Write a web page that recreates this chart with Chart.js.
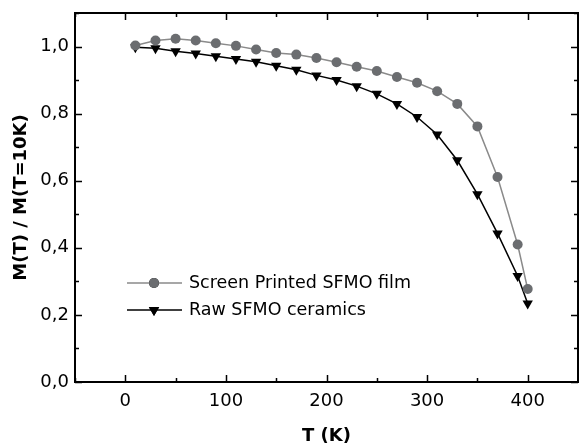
<!DOCTYPE html>
<html>
<head>
<meta charset="utf-8">
<script src="https://cdn.jsdelivr.net/npm/chart.js@4.4.1/dist/chart.umd.min.js"></script>
<style>
  html, body { margin: 0; padding: 0; background: #fff; }
  #wrap { width: 579px; height: 447px; }
</style>
</head>
<body>
<div id="wrap"><canvas id="c" width="579" height="447"></canvas></div>
<script>
// temperatures (K), same for both samples
const temps = [10, 30, 50, 70, 90, 110, 130, 150, 170, 190, 210, 230, 250, 270, 290, 310, 330, 350, 370, 390, 400]

const filmValues = [1.003, 1.018, 1.023, 1.018, 1.010, 1.002, 0.991, 0.981, 0.976, 0.966, 0.953,
  0.940, 0.927, 0.909, 0.892, 0.867, 0.829, 0.762, 0.611, 0.410, 0.277]

const ceramicValues = [0.998, 0.995, 0.986, 0.979, 0.971, 0.963, 0.955, 0.943, 0.931, 0.914, 0.900,
  0.882, 0.859, 0.829, 0.790, 0.738, 0.661, 0.560, 0.443, 0.316, 0.234]

const seriesNames = ['Screen Printed SFMO film', 'Raw SFMO ceramics']

const xTickLabels = [0, 100, 200, 300, 400]
const yTickLabels = ['0,0', '0,2', '0,4', '0,6', '0,8', '1,0']

const FONT = 'DejaVu Sans'

// frame + inward ticks on all four sides
const frameTicks = {
  id: 'frameTicks',
  afterDraw(chart) {
    const { ctx, chartArea: a, scales } = chart
    ctx.save()
    ctx.strokeStyle = '#000'
    ctx.lineWidth = 1.5
    // ticks
    for (let v = -50; v <= 450; v += 50) {
      const px = Math.round(scales.x.getPixelForValue(v)) + 0.5
      const len = v % 100 === 0 ? 7 : 4
      ctx.beginPath()
      ctx.moveTo(px, a.bottom); ctx.lineTo(px, a.bottom - len)
      ctx.moveTo(px, a.top); ctx.lineTo(px, a.top + len)
      ctx.stroke()
    }
    for (let i = 0; i <= 11; i++) {
      const py = Math.round(scales.y.getPixelForValue(i / 10)) + 0.5
      const len = i % 2 === 0 ? 7 : 4
      ctx.beginPath()
      ctx.moveTo(a.left, py); ctx.lineTo(a.left + len, py)
      ctx.moveTo(a.right, py); ctx.lineTo(a.right - len, py)
      ctx.stroke()
    }
    ctx.lineWidth = 2
    ctx.strokeRect(a.left, a.top, a.right - a.left, a.bottom - a.top)
    ctx.restore()
  },
}

// legend inside the plot: short line with marker, then the label
const insideLegend = {
  id: 'insideLegend',
  afterDatasetsDraw(chart) {
    const { ctx } = chart
    const rows = [283, 310]
    chart.data.datasets.forEach((ds, i) => {
      const y = rows[i]
      ctx.save()
      ctx.strokeStyle = ds.borderColor
      ctx.lineWidth = ds.borderWidth
      ctx.beginPath()
      ctx.moveTo(127, y); ctx.lineTo(182, y)
      ctx.stroke()
      Chart.helpers.drawPoint(ctx, {
        pointStyle: ds.pointStyle,
        rotation: ds.pointRotation || 0,
        radius: ds.pointRadius,
        borderWidth: 0,
      }, 154, y)
      ctx.fillStyle = ds.pointBackgroundColor
      ctx.fill()
      ctx.fillStyle = '#000'
      ctx.font = '17.5px ' + FONT
      ctx.textBaseline = 'middle'
      ctx.fillText(ds.label, 189, y)
      ctx.restore()
    })
  },
}

new Chart(document.getElementById('c'), {
  type: 'line',
  data: {
    datasets: [
      {
        label: seriesNames[0],
        data: temps.map((t, i) => ({ x: t, y: filmValues[i] })),
        borderColor: '#8a8a8a',
        borderWidth: 1.5,
        pointStyle: 'circle',
        pointRadius: 5,
        pointBackgroundColor: '#6b6d70',
        pointBorderColor: '#6b6d70',
        pointBorderWidth: 0,
      },
      {
        label: seriesNames[1],
        data: temps.map((t, i) => ({ x: t, y: ceramicValues[i] })),
        borderColor: '#000',
        borderWidth: 1.5,
        pointStyle: 'triangle',
        pointRotation: 180,
        pointRadius: 6,
        pointBackgroundColor: '#000',
        pointBorderColor: '#000',
        pointBorderWidth: 0,
      },
    ],
  },
  options: {
    responsive: false,
    animation: false,
    layout: { autoPadding: false, padding: { left: 0, right: 1, top: 13, bottom: 0 } },
    scales: {
      x: {
        type: 'linear',
        min: -50,
        max: 450,
        border: { display: false },
        grid: { display: false, drawTicks: false },
        ticks: {
          stepSize: 50,
          padding: 9,
          color: '#000',
          font: { family: FONT, size: 18 },
          callback: (v) => (xTickLabels.includes(v) ? String(v) : ''),
        },
        title: {
          display: true,
          text: 'T (K)',
          color: '#000',
          font: { family: FONT, size: 18, weight: 'bold' },
          padding: { top: 0, bottom: 0 },
        },
        afterFit: (s) => { s.height = 65; s.paddingLeft = 0; s.paddingRight = 0 },
      },
      y: {
        min: 0,
        max: 1.1,
        border: { display: false },
        grid: { display: false, drawTicks: false },
        ticks: {
          stepSize: 0.1,
          padding: 6,
          color: '#000',
          font: { family: FONT, size: 18 },
          callback: (v) => {
            const k = Math.round(v * 10)
            return k % 2 === 0 ? (yTickLabels[k / 2] || '') : ''
          },
        },
        title: {
          display: true,
          text: 'M(T) / M(T=10K)',
          color: '#000',
          font: { family: FONT, size: 18, weight: 'bold' },
          padding: { top: 11, bottom: 0 },
        },
        afterFit: (s) => { s.width = 75; s.paddingTop = 0; s.paddingBottom = 0 },
      },
    },
    plugins: {
      legend: { display: false },
      tooltip: { enabled: false },
    },
  },
  plugins: [frameTicks, insideLegend],
})
</script>
</body>
</html>
